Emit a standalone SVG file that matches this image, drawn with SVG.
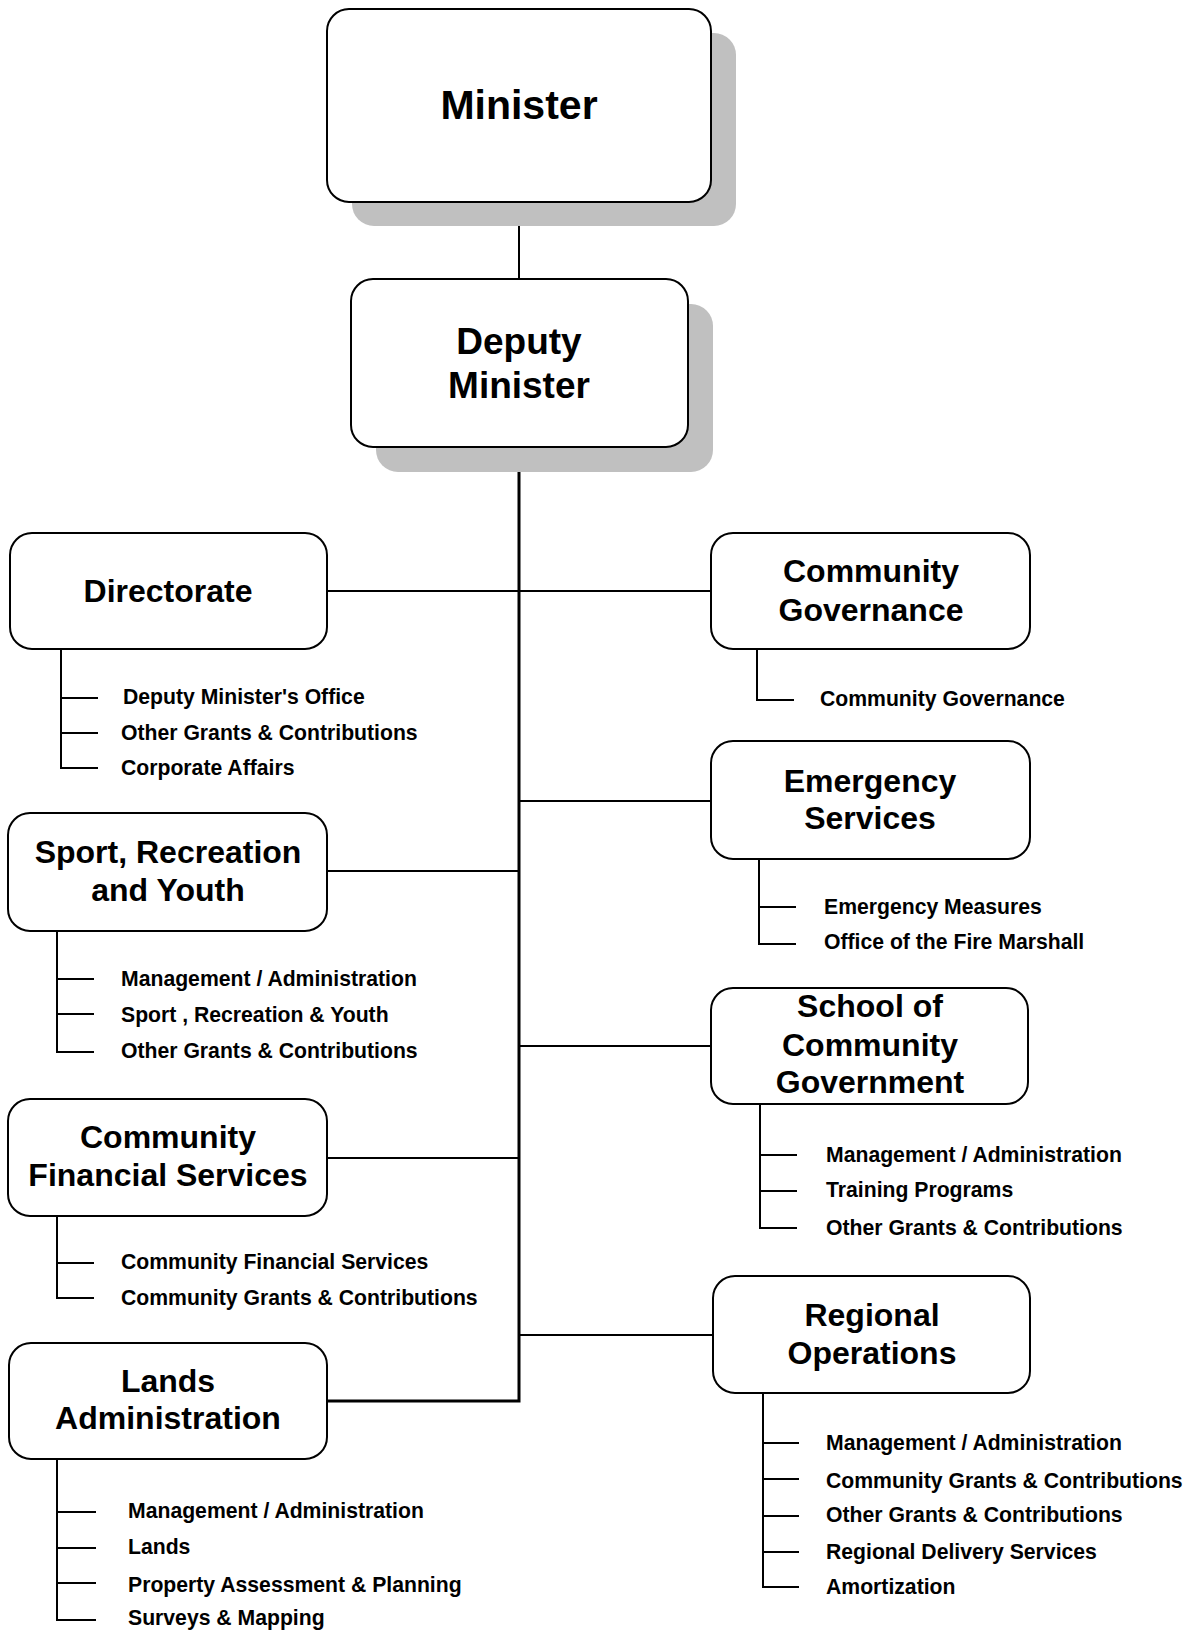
<svg xmlns="http://www.w3.org/2000/svg" width="1191" height="1632" viewBox="0 0 1191 1632">
  <style>
    .box { fill: #ffffff; stroke: #000000; stroke-width: 2; }
    .shadow { fill: #c0c0c0; stroke: none; }
    .title { font-family: "Liberation Sans", Arial, sans-serif; font-weight: bold; fill: #000000; text-anchor: middle; }
    .big { font-size: 41px; }
    .mid { font-size: 37px; }
    .unit { font-size: 32px; }
    .item { font-family: "Liberation Sans", Arial, sans-serif; font-weight: bold; font-size: 21.2px; fill: #000000; }
    .line { stroke: #000000; stroke-width: 2; fill: none; }
    .trunk { stroke: #000000; stroke-width: 3; fill: none; }
  </style>

  <!-- connectors -->
  <g id="connectors">
    <line class="line" x1="519" y1="202" x2="519" y2="280"/>
    <polyline class="trunk" points="519,447 519,1401 327,1401"/>
    <line class="line" x1="327" y1="591" x2="711" y2="591"/>
    <line class="line" x1="519" y1="801" x2="711" y2="801"/>
    <line class="line" x1="327" y1="871" x2="519" y2="871"/>
    <line class="line" x1="519" y1="1046" x2="711" y2="1046"/>
    <line class="line" x1="327" y1="1158" x2="519" y2="1158"/>
    <line class="line" x1="519" y1="1335" x2="713" y2="1335"/>

    <!-- Directorate items -->
    <polyline class="line" points="61,650 61,768 98,768"/>
    <line class="line" x1="61" y1="698" x2="98" y2="698"/>
    <line class="line" x1="61" y1="733" x2="98" y2="733"/>

    <!-- Sport, Recreation and Youth items -->
    <polyline class="line" points="57,931 57,1052 94,1052"/>
    <line class="line" x1="57" y1="979" x2="94" y2="979"/>
    <line class="line" x1="57" y1="1014" x2="94" y2="1014"/>

    <!-- Community Financial Services items -->
    <polyline class="line" points="57,1216 57,1298 94,1298"/>
    <line class="line" x1="57" y1="1263" x2="94" y2="1263"/>

    <!-- Lands Administration items -->
    <polyline class="line" points="57,1459 57,1620 96,1620"/>
    <line class="line" x1="57" y1="1512" x2="96" y2="1512"/>
    <line class="line" x1="57" y1="1548" x2="96" y2="1548"/>
    <line class="line" x1="57" y1="1583" x2="96" y2="1583"/>

    <!-- Community Governance items -->
    <polyline class="line" points="757,649 757,700 794,700"/>

    <!-- Emergency Services items -->
    <polyline class="line" points="759,859 759,944 796,944"/>
    <line class="line" x1="759" y1="907" x2="796" y2="907"/>

    <!-- School of Community Government items -->
    <polyline class="line" points="760,1104 760,1228 797,1228"/>
    <line class="line" x1="760" y1="1155" x2="797" y2="1155"/>
    <line class="line" x1="760" y1="1191" x2="797" y2="1191"/>

    <!-- Regional Operations items -->
    <polyline class="line" points="763,1393 763,1587 799,1587"/>
    <line class="line" x1="763" y1="1443" x2="799" y2="1443"/>
    <line class="line" x1="763" y1="1479" x2="799" y2="1479"/>
    <line class="line" x1="763" y1="1516" x2="799" y2="1516"/>
    <line class="line" x1="763" y1="1552" x2="799" y2="1552"/>
  </g>

  <g id="minister">
    <rect class="shadow" x="352" y="33" width="384" height="193" rx="22"/>
    <rect class="box" x="327" y="9" width="384" height="193" rx="22"/>
    <text class="title big" x="519" y="119">Minister</text>
  </g>

  <g id="deputy-minister">
    <rect class="shadow" x="376" y="304" width="337" height="168" rx="22"/>
    <rect class="box" x="351" y="279" width="337" height="168" rx="22"/>
    <text class="title mid" x="519" y="354">Deputy</text>
    <text class="title mid" x="519" y="398">Minister</text>
  </g>

  <g id="directorate">
    <rect class="box" x="10" y="533" width="317" height="116" rx="22"/>
    <text class="title unit" x="168" y="602">Directorate</text>
    <text class="item" x="123" y="704">Deputy Minister's Office</text>
    <text class="item" x="121" y="740">Other Grants &amp; Contributions</text>
    <text class="item" x="121" y="775">Corporate Affairs</text>
  </g>

  <g id="sport-recreation-youth">
    <rect class="box" x="8" y="813" width="319" height="118" rx="22"/>
    <text class="title unit" x="168" y="863">Sport, Recreation</text>
    <text class="title unit" x="168" y="901">and Youth</text>
    <text class="item" x="121" y="986">Management / Administration</text>
    <text class="item" x="121" y="1022">Sport , Recreation &amp; Youth</text>
    <text class="item" x="121" y="1058">Other Grants &amp; Contributions</text>
  </g>

  <g id="community-financial-services">
    <rect class="box" x="8" y="1099" width="319" height="117" rx="22"/>
    <text class="title unit" x="168" y="1148">Community</text>
    <text class="title unit" x="168" y="1186">Financial Services</text>
    <text class="item" x="121" y="1269">Community Financial Services</text>
    <text class="item" x="121" y="1305">Community Grants &amp; Contributions</text>
  </g>

  <g id="lands-administration">
    <rect class="box" x="9" y="1343" width="318" height="116" rx="22"/>
    <text class="title unit" x="168" y="1392">Lands</text>
    <text class="title unit" x="168" y="1429">Administration</text>
    <text class="item" x="128" y="1518">Management / Administration</text>
    <text class="item" x="128" y="1554">Lands</text>
    <text class="item" x="128" y="1592">Property Assessment &amp; Planning</text>
    <text class="item" x="128" y="1625">Surveys &amp; Mapping</text>
  </g>

  <g id="community-governance">
    <rect class="box" x="711" y="533" width="319" height="116" rx="22"/>
    <text class="title unit" x="871" y="582">Community</text>
    <text class="title unit" x="871" y="621">Governance</text>
    <text class="item" x="820" y="706">Community Governance</text>
  </g>

  <g id="emergency-services">
    <rect class="box" x="711" y="741" width="319" height="118" rx="22"/>
    <text class="title unit" x="870" y="792">Emergency</text>
    <text class="title unit" x="870" y="829">Services</text>
    <text class="item" x="824" y="914">Emergency Measures</text>
    <text class="item" x="824" y="949">Office of the Fire Marshall</text>
  </g>

  <g id="school-of-community-government">
    <rect class="box" x="711" y="988" width="317" height="116" rx="22"/>
    <text class="title unit" x="870" y="1017">School of</text>
    <text class="title unit" x="870" y="1056">Community</text>
    <text class="title unit" x="870" y="1093">Government</text>
    <text class="item" x="826" y="1162">Management / Administration</text>
    <text class="item" x="826" y="1197">Training Programs</text>
    <text class="item" x="826" y="1235">Other Grants &amp; Contributions</text>
  </g>

  <g id="regional-operations">
    <rect class="box" x="713" y="1276" width="317" height="117" rx="22"/>
    <text class="title unit" x="872" y="1326">Regional</text>
    <text class="title unit" x="872" y="1364">Operations</text>
    <text class="item" x="826" y="1450">Management / Administration</text>
    <text class="item" x="826" y="1488">Community Grants &amp; Contributions</text>
    <text class="item" x="826" y="1522">Other Grants &amp; Contributions</text>
    <text class="item" x="826" y="1559">Regional Delivery Services</text>
    <text class="item" x="826" y="1594">Amortization</text>
  </g>
</svg>
